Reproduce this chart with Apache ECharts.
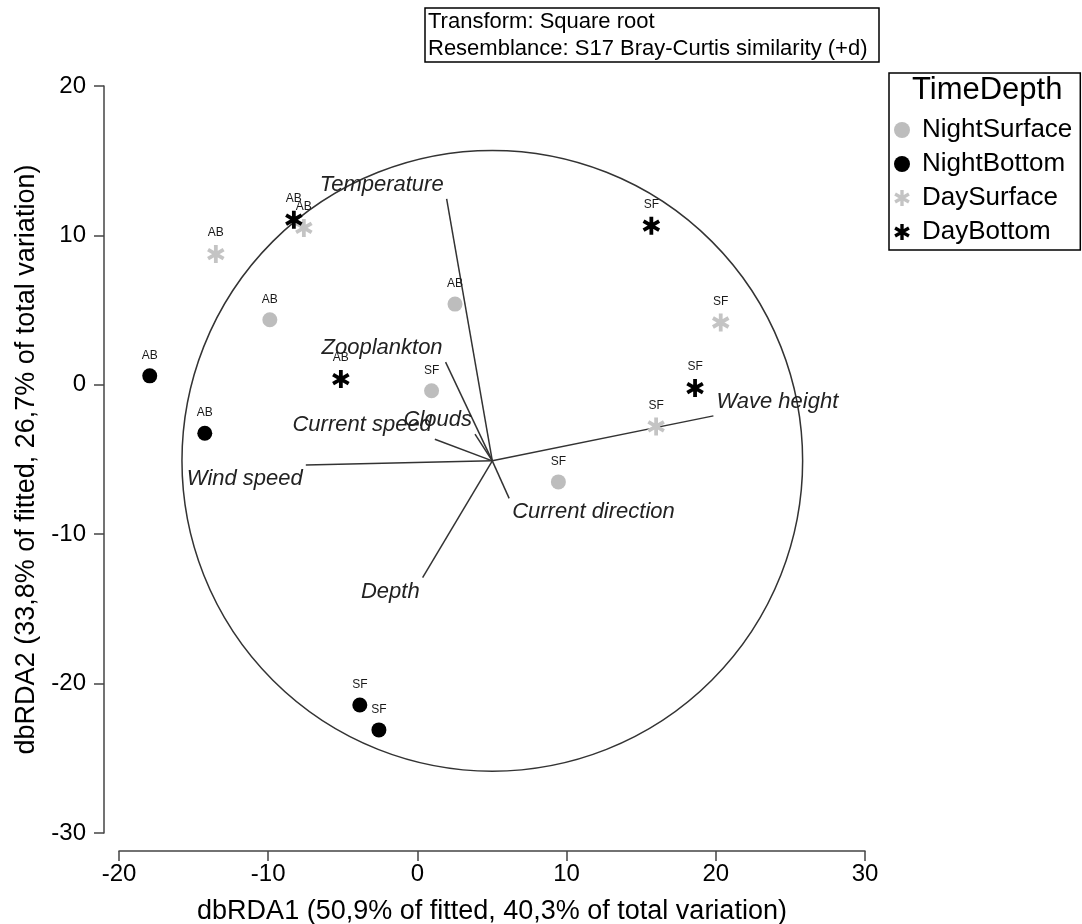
<!DOCTYPE html>
<html>
<head>
<meta charset="utf-8">
<style>
  html, body { margin: 0; padding: 0; background: #fff; }
  #chart { width: 1082px; height: 924px; }
</style>
<script src="https://cdn.jsdelivr.net/npm/echarts@6/dist/echarts.min.js"></script>
</head>
<body>
<div id="chart"></div>
<script>
// Axis ticks
const xTicks = [-20, -10, 0, 10, 20, 30];
const yTicks = [-30, -20, -10, 0, 10, 20];

// Sample scores (dbRDA1, dbRDA2) and site labels per TimeDepth group
const nightSurfaceX = [-9.89, 2.52, 0.95, 9.45];
const nightSurfaceY = [4.35, 5.40, -0.40, -6.50];
const nightSurfaceLab = ['AB', 'AB', 'SF', 'SF'];

const nightBottomX = [-17.94, -14.25, -3.86, -2.58];
const nightBottomY = [0.60, -3.24, -21.43, -23.10];
const nightBottomLab = ['AB', 'AB', 'SF', 'SF'];

const daySurfaceX = [-13.51, -7.61, 20.33, 16.00];
const daySurfaceY = [8.75, 10.50, 4.17, -2.79];
const daySurfaceLab = ['AB', 'AB', 'SF', 'SF'];

const dayBottomX = [-8.28, -5.13, 15.68, 18.61];
const dayBottomY = [11.05, 0.38, 10.65, -0.22];
const dayBottomLab = ['AB', 'AB', 'SF', 'SF'];

// Predictor vectors: common origin and end points
const vectorOrigin = [5.02, -5.09];
const vectorNames = ['Temperature', 'Zooplankton', 'Clouds', 'Current speed',
                     'Wind speed', 'Depth', 'Current direction', 'Wave height'];
const vectorEndX = [1.96, 1.89, 3.86, 1.17, -7.48, 0.35, 6.15, 19.84];
const vectorEndY = [12.44, 1.52, -3.30, -3.64, -5.36, -12.90, -7.60, -2.08];

// Correlation circle radius (in axis units)
const circleRadius = 20.8;

const FONT = '"Liberation Sans", Arial, Helvetica, sans-serif';

// Six-armed asterisk marker
const ASTERISK = 'path://M-2.1,-10L2.1,-10L2.1,10L-2.1,10Z' +
  'M7.61,-6.82L9.71,-3.18L-7.61,6.82L-9.71,3.18Z' +
  'M-9.71,-3.18L-7.61,-6.82L9.71,3.18L7.61,6.82Z';

function pts(xs, ys, labs) {
  return xs.map((x, i) => [x, ys[i], labs[i]]);
}

function scatter(name, xs, ys, labs, symbol, size, color, dist) {
  return {
    name: name,
    type: 'scatter',
    symbol: symbol,
    symbolSize: size,
    symbolKeepAspect: true,
    itemStyle: { color: color, opacity: 1 },
    emphasis: { disabled: true },
    label: {
      show: true,
      position: 'top',
      distance: dist,
      formatter: p => p.value[2],
      fontFamily: FONT,
      fontSize: 12,
      color: '#1a1a1a'
    },
    data: pts(xs, ys, labs),
    z: 5
  };
}

const chart = echarts.init(document.getElementById('chart'), null, { renderer: 'canvas' });

const option = {
  backgroundColor: '#ffffff',
  animation: false,
  title: [
    {
      text: 'Transform: Square root\nResemblance: S17 Bray-Curtis similarity (+d)',
      left: 425, top: 8,
      padding: [0, 12, 0, 3],
      borderColor: '#000', borderWidth: 1.5,
      textStyle: { fontFamily: FONT, fontSize: 22, fontWeight: 'normal', color: '#000', lineHeight: 27 }
    },
    {
      text: 'TimeDepth',
      left: 912, top: 74,
      padding: 0,
      textStyle: { fontFamily: FONT, fontSize: 31, fontWeight: 'normal', color: '#000', lineHeight: 33 }
    }
  ],
  legend: {
    orient: 'vertical',
    left: 889, top: 73,
    padding: [44, 8, 5, 5],
    itemWidth: 30, itemHeight: 16,
    itemGap: 8,
    borderColor: '#000', borderWidth: 1.5,
    selectedMode: false,
    textStyle: { fontFamily: FONT, fontSize: 26, color: '#000', lineHeight: 26 },
    data: [
      { name: 'NightSurface', icon: 'circle' },
      { name: 'NightBottom', icon: 'circle' },
      { name: 'DaySurface', icon: ASTERISK },
      { name: 'DayBottom', icon: ASTERISK }
    ]
  },
  grid: { left: 119, right: 217, top: 86, bottom: 91, outerBoundsMode: 'none', containLabel: false },
  xAxis: {
    type: 'value',
    min: xTicks[0], max: xTicks[xTicks.length - 1], interval: 10,
    offset: 18,
    name: 'dbRDA1 (50,9% of fitted, 40,3% of total variation)',
    nameLocation: 'middle', nameGap: 47,
    nameTextStyle: { fontFamily: FONT, fontSize: 27, color: '#000' },
    axisLine: { show: true, onZero: false, lineStyle: { color: '#444', width: 1.5 } },
    axisTick: { show: true, inside: false, length: 10, lineStyle: { color: '#444', width: 1.5 } },
    axisLabel: { fontFamily: FONT, fontSize: 24, color: '#000', margin: 11 },
    splitLine: { show: false }
  },
  yAxis: {
    type: 'value',
    min: yTicks[0], max: yTicks[yTicks.length - 1], interval: 10,
    offset: 15,
    name: 'dbRDA2 (33,8% of fitted, 26,7% of total variation)',
    nameLocation: 'middle', nameGap: 63,
    nameTextStyle: { fontFamily: FONT, fontSize: 27, color: '#000' },
    axisLine: { show: true, onZero: false, lineStyle: { color: '#444', width: 1.5 } },
    axisTick: { show: true, inside: false, length: 10, lineStyle: { color: '#444', width: 1.5 } },
    axisLabel: { fontFamily: FONT, fontSize: 24, color: '#000', margin: 18 },
    splitLine: { show: false }
  },
  series: [
    {
      // correlation circle around the vector origin
      type: 'custom',
      silent: true,
      clip: false,
      z: 2,
      data: [[vectorOrigin[0], vectorOrigin[1], circleRadius]],
      renderItem: function (params, api) {
        const c = api.coord([api.value(0), api.value(1)]);
        const r = api.size([api.value(2), 0])[0];
        return {
          type: 'circle',
          shape: { cx: c[0], cy: c[1], r: r },
          style: { fill: 'none', stroke: '#333', lineWidth: 1.5 }
        };
      }
    },
    {
      // predictor vectors with their names
      type: 'custom',
      silent: true,
      clip: false,
      z: 3,
      data: vectorEndX.map((x, i) => [x, vectorEndY[i], i]),
      renderItem: function (params, api) {
        const o = api.coord(vectorOrigin);
        const ex = api.value(0), ey = api.value(1);
        const e = api.coord([ex, ey]);
        const leftSide = ex < vectorOrigin[0];
        const above = ey > vectorOrigin[1];
        return {
          type: 'group',
          children: [
            {
              type: 'line',
              shape: { x1: o[0], y1: o[1], x2: e[0], y2: e[1] },
              style: { stroke: '#333', lineWidth: 1.5 }
            },
            {
              type: 'text',
              x: e[0] + (leftSide ? -3 : 3),
              y: e[1] + (above ? -3 : 3),
              style: {
                text: vectorNames[api.value(2)],
                align: leftSide ? 'right' : 'left',
                verticalAlign: above ? 'bottom' : 'top',
                fontFamily: FONT, fontSize: 22, fontStyle: 'italic',
                fill: '#222'
              }
            }
          ]
        };
      }
    },
    scatter('NightSurface', nightSurfaceX, nightSurfaceY, nightSurfaceLab, 'circle', 15, '#bdbdbd', 7),
    scatter('NightBottom', nightBottomX, nightBottomY, nightBottomLab, 'circle', 15, '#000000', 7),
    scatter('DaySurface', daySurfaceX, daySurfaceY, daySurfaceLab, ASTERISK, 18, '#c4c4c4', 6),
    scatter('DayBottom', dayBottomX, dayBottomY, dayBottomLab, ASTERISK, 18, '#000000', 6)
  ]
};

chart.setOption(option);
</script>
</body>
</html>
